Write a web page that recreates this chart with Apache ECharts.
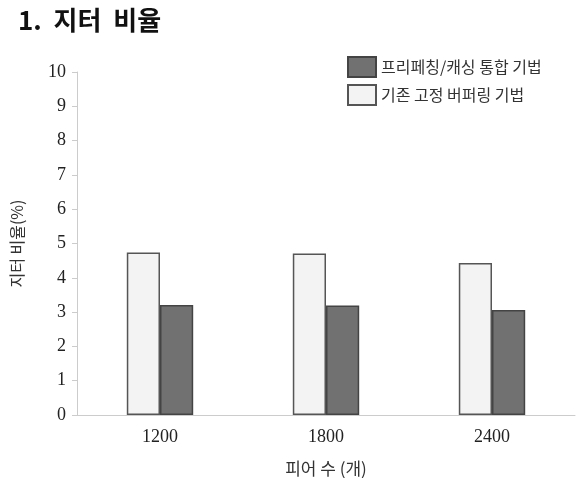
<!DOCTYPE html>
<html>
<head>
<meta charset="utf-8">
<script src="https://cdn.jsdelivr.net/npm/echarts@6/dist/echarts.min.js"></script>
<style>
html,body{margin:0;padding:0;background:#fff;}
#main{width:578px;height:478px;}
</style>
</head>
<body>
<div id="main"></div>
<script>
// 피어 수별 지터 비율
var peers = ['1200', '1800', '2400'];
var fixedBuffering = [4.74, 4.71, 4.43];   // 기존 고정 버퍼링 기법
var prefetchCaching = [3.21, 3.19, 3.06];  // 프리페칭/캐싱 통합 기법

var serif = '"Liberation Serif", "DejaVu Serif", "Noto Sans CJK KR", serif';
var kr = '"Noto Sans CJK KR", sans-serif';

window.onload = function(){
    var myChart = echarts.init(document.getElementById('main'));

    var option = {
        backgroundColor: '#fff',
        animation: false,
        title: {
            text: '1.  지터  비율',
            left: 13,
            top: 2,
            textStyle: {fontFamily: kr, fontSize: 26, fontWeight: 'bold', color: '#111'}
        },
        legend: {
            orient: 'vertical',
            left: 342,
            top: 51,
            icon: 'rect',
            itemWidth: 28,
            itemHeight: 20,
            itemGap: 6,
            data: ['프리페칭/캐싱 통합 기법', '기존 고정 버퍼링 기법'],
            textStyle: {fontFamily: kr, fontSize: 16, color: '#333'}
        },
        grid: {left: 77, right: 3, top: 72, bottom: 63, outerBoundsMode: 'none', containLabel: false},
        xAxis: {
            type: 'category',
            data: peers,
            name: '피어 수 (개)',
            nameLocation: 'middle',
            nameGap: 45,
            nameTextStyle: {fontFamily: kr, fontSize: 17, color: '#333'},
            axisLine: {lineStyle: {color: '#ccc'}},
            axisTick: {show: false},
            axisLabel: {fontFamily: serif, fontSize: 18, color: '#222', margin: 13}
        },
        yAxis: {
            type: 'value',
            min: 0,
            max: 10,
            interval: 1,
            name: '지터 비율(%)',
            nameLocation: 'middle',
            nameGap: 52,
            nameTextStyle: {fontFamily: kr, fontSize: 16, color: '#333'},
            axisLine: {show: true, lineStyle: {color: '#ccc'}},
            axisTick: {show: true, length: 5, lineStyle: {color: '#ccc'}},
            splitLine: {show: false},
            axisLabel: {fontFamily: serif, fontSize: 18, color: '#222', margin: 11}
        },
        series: [
            {
                name: '기존 고정 버퍼링 기법',
                type: 'bar',
                data: fixedBuffering,
                barGap: '0%',
                barCategoryGap: '60%',
                itemStyle: {color: '#f3f3f3', borderColor: '#555', borderWidth: 1.5}
            },
            {
                name: '프리페칭/캐싱 통합 기법',
                type: 'bar',
                data: prefetchCaching,
                itemStyle: {color: '#717171', borderColor: '#444', borderWidth: 1.5}
            }
        ]
    };

    myChart.setOption(option);
};
</script>
</body>
</html>
